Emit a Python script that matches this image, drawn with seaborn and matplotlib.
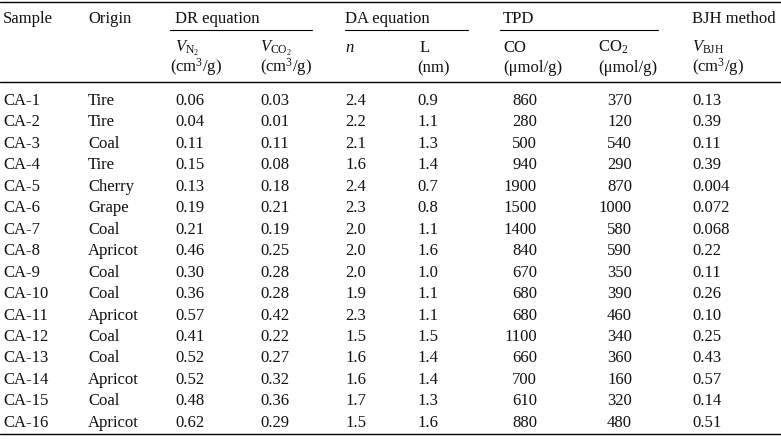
# ==========================================
# TABLE: PORE STRUCTURE OF CARBON SAMPLES
# ==========================================

import pandas as pd
import matplotlib.pyplot as plt
import seaborn as sns

# ==========================================
# DATA
# ==========================================

samples = ["CA-%d" % i for i in range(1, 17)]
origins = ["Tire", "Tire", "Coal", "Tire", "Cherry", "Grape", "Coal", "Apricot",
           "Coal", "Coal", "Apricot", "Coal", "Coal", "Apricot", "Coal", "Apricot"]
v_n2 = ["0.06", "0.04", "0.11", "0.15", "0.13", "0.19", "0.21", "0.46",
        "0.30", "0.36", "0.57", "0.41", "0.52", "0.52", "0.48", "0.62"]
v_co2 = ["0.03", "0.01", "0.11", "0.08", "0.18", "0.21", "0.19", "0.25",
         "0.28", "0.28", "0.42", "0.22", "0.27", "0.32", "0.36", "0.29"]
n_vals = ["2.4", "2.2", "2.1", "1.6", "2.4", "2.3", "2.0", "2.0",
          "2.0", "1.9", "2.3", "1.5", "1.6", "1.6", "1.7", "1.5"]
l_vals = ["0.9", "1.1", "1.3", "1.4", "0.7", "0.8", "1.1", "1.6",
          "1.0", "1.1", "1.1", "1.5", "1.4", "1.4", "1.3", "1.6"]
tpd_co = ["860", "280", "500", "940", "1900", "1500", "1400", "840",
          "670", "680", "680", "1100", "660", "700", "610", "880"]
tpd_co2 = ["370", "120", "540", "290", "870", "1000", "580", "590",
           "350", "390", "460", "340", "360", "160", "320", "480"]
v_bjh = ["0.13", "0.39", "0.11", "0.39", "0.004", "0.072", "0.068", "0.22",
         "0.11", "0.26", "0.10", "0.25", "0.43", "0.57", "0.14", "0.51"]

data = pd.DataFrame({"sample": samples, "origin": origins, "v_n2": v_n2,
                     "v_co2": v_co2, "n": n_vals, "L": l_vals, "co": tpd_co,
                     "co2": tpd_co2, "v_bjh": v_bjh})

# column x position and alignment
columns = [("sample", 3, "left"), ("origin", 88, "left"), ("v_n2", 175, "left"),
           ("v_co2", 260, "left"), ("n", 345, "left"), ("L", 417, "left"),
           ("co", 537, "right"), ("co2", 632, "right"), ("v_bjh", 692, "left")]

# ==========================================
# STYLE
# ==========================================

sns.set_theme(style="white")
plt.rcParams['font.family'] = ['Liberation Serif', 'DejaVu Serif']
plt.rcParams['mathtext.fontset'] = 'custom'
plt.rcParams['mathtext.rm'] = 'Liberation Serif'
plt.rcParams['mathtext.it'] = 'Liberation Serif:italic'

fs = 12
ink = "#111111"

fig = plt.figure(figsize=(7.81, 4.40), dpi=100)
ax = fig.add_axes([0, 0, 1, 1])
ax.set_xlim(0, 781)
ax.set_ylim(440, 0)
ax.axis("off")

# ==========================================
# RULES
# ==========================================

ax.plot([0, 781], [2.5, 2.5], color="black", lw=1)
ax.plot([0, 781], [82, 82], color="black", lw=1)
ax.plot([0, 781], [434, 434], color="black", lw=1)
for x0, x1 in [(170, 312), (345, 468), (500, 658)]:
    ax.plot([x0, x1], [30, 30], color="black", lw=0.8)

# ==========================================
# HEADER
# ==========================================

top = [("Sample", 3), ("Origin", 88), ("DR equation", 175),
       ("DA equation", 345), ("TPD", 503), ("BJH method", 692)]
for label, x in top:
    ax.text(x, 23, label, fontsize=fs, va="baseline", ha="left", color=ink)

sub1 = [(r"$V_{\mathrm{N_2}}$", 175), (r"$V_{\mathrm{CO_2}}$", 260),
        (r"$n$", 345), ("L", 420), ("CO", 503), (r"CO$_2$", 598),
        (r"$V_{\mathrm{BJH}}$", 692)]
for label, x in sub1:
    ax.text(x, 52, label, fontsize=fs, va="baseline", ha="left", color=ink)

sub2 = [(r"(cm$^3$/g)", 170), (r"(cm$^3$/g)", 260), ("(nm)", 417),
        ("(μmol/g)", 503), ("(μmol/g)", 598), (r"(cm$^3$/g)", 692)]
for label, x in sub2:
    ax.text(x, 72, label, fontsize=fs, va="baseline", ha="left", color=ink)

# ==========================================
# BODY
# ==========================================

for i, row in data.iterrows():
    y = 105 + 21.45 * i
    for col, x, align in columns:
        ax.text(x, y, row[col], fontsize=fs, va="baseline", ha=align, color=ink)

plt.savefig("out.png", dpi=100)
